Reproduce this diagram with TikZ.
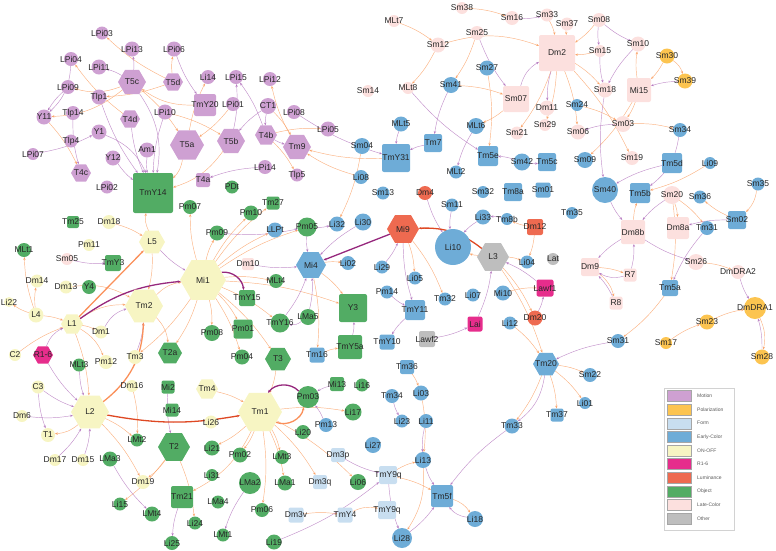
\documentclass[tikz,border=0pt]{standalone}
\usepackage{fontspec}
\setmainfont{Liberation Sans}
\usetikzlibrary{shapes.geometric,arrows.meta,backgrounds}
\definecolor{cMo}{RGB}{206,160,210}
\definecolor{cPo}{RGB}{252,196,80}
\definecolor{cFo}{RGB}{200,222,240}
\definecolor{cEc}{RGB}{110,172,215}
\definecolor{cOn}{RGB}{247,245,195}
\definecolor{cRr}{RGB}{230,45,140}
\definecolor{cLu}{RGB}{238,106,80}
\definecolor{cOb}{RGB}{82,172,100}
\definecolor{cLc}{RGB}{252,224,222}
\definecolor{cOt}{RGB}{190,190,190}
\definecolor{eO}{RGB}{250,160,100}
\definecolor{eP}{RGB}{180,118,190}
\definecolor{eR}{RGB}{222,72,35}
\definecolor{eD}{RGB}{150,40,125}
\tikzset{
  v/.style={inner sep=0pt,outer sep=0pt,text=black!85,font=\fontsize{8.5}{9}\selectfont,
    execute at begin node={\hbox to 0pt\bgroup\hss},execute at end node={\hss\egroup}},
  cir/.style={circle,minimum size=#1},
  sqr/.style={rectangle,rounded corners=2pt,minimum size=#1},
  hex/.style={regular polygon,regular polygon sides=6,minimum size=#1},
  mot/.style={fill=cMo}, pol/.style={fill=cPo}, frm/.style={fill=cFo}, ecl/.style={fill=cEc},
  onf/.style={fill=cOn}, rsx/.style={fill=cRr}, lum/.style={fill=cLu}, obj/.style={fill=cOb},
  lcl/.style={fill=cLc}, oth/.style={fill=cOt},
  eo/.style={draw=eO,line width=0.45pt,draw opacity=0.8,-{Stealth[length=3pt,width=2.4pt]}},
  ep/.style={draw=eP,line width=0.45pt,draw opacity=0.8,-{Stealth[length=3pt,width=2.4pt]}},
  thk/.style={line width=1.3pt,draw opacity=1},
  sw/.style={draw=gray!70,line width=0.3pt,minimum width=24pt,minimum height=11pt,inner sep=0pt},
  lg/.style={font=\fontsize{5}{6}\selectfont,text=gray!70!black,inner sep=0pt}
}
\begin{document}
\begin{tikzpicture}[x=1pt,y=-1pt]
\useasboundingbox (0,0) rectangle (776,550);
% motion
\node[v,cir=13,mot] (LPi03) at (102,33) {LPi03}; \node[v,cir=15,mot] (LPi13) at (132,49) {LPi13}; \node[v,cir=15,mot] (LPi06) at (174,49) {LPi06};
\node[v,cir=14,mot] (LPi04) at (71,59) {LPi04}; \node[v,cir=15,mot] (LPi11) at (99,67) {LPi11}; \node[v,hex=28,mot] (T5c) at (132,82) {T5c};
\node[v,hex=20,mot] (T5d) at (173,82) {T5d}; \node[v,cir=14,mot] (LPi09) at (68,87) {LPi09}; \node[v,cir=15,mot] (Tlp1) at (99,97) {Tlp1};
\node[v,cir=14,mot] (Tlp14) at (73,113) {Tlp14}; \node[v,cir=15,mot] (Y11) at (44,117) {Y11}; \node[v,hex=20,mot] (T4d) at (130,119) {T4d};
\node[v,cir=15,mot] (LPi10) at (165,112) {LPi10}; \node[v,cir=15,mot] (Y1) at (99,132) {Y1}; \node[v,cir=13,mot] (Tlp4) at (71,141) {Tlp4};
\node[v,hex=34,mot] (T5a) at (187,145) {T5a}; \node[v,cir=15,mot] (Am1) at (147,150) {Am1}; \node[v,cir=12,mot] (LPi07) at (33,154) {LPi07};
\node[v,cir=15,mot] (Y12) at (113,158) {Y12}; \node[v,hex=20,mot] (T4c) at (81,173) {T4c}; \node[v,cir=13,mot] (LPi02) at (107,187) {LPi02};
\node[v,cir=14,mot] (Li14) at (208,77) {Li14}; \node[v,cir=14,mot] (LPi15) at (236,77) {LPi15}; \node[v,cir=14,mot] (LPi12) at (270,79) {LPi12};
\node[v,sqr=22,mot] (TmY20) at (205,105) {TmY20}; \node[v,cir=14,mot] (LPi01) at (233,104) {LPi01}; \node[v,cir=16,mot] (CT1) at (268,106) {CT1};
\node[v,cir=14,mot] (LPi08) at (294,112) {LPi08}; \node[v,hex=28,mot] (T5b) at (231,141) {T5b}; \node[v,hex=22,mot] (T4b) at (266,135) {T4b};
\node[v,cir=15,mot] (LPi05) at (328,129) {LPi05}; \node[v,hex=28,mot] (Tm9) at (297,147) {Tm9}; \node[v,cir=14,mot] (LPi14) at (265,167) {LPi14};
\node[v,sqr=14,mot] (T4a) at (203,180) {T4a}; \node[v,cir=13,mot] (Tlp5) at (297,175) {Tlp5};
% on-off
\node[v,hex=46,onf] (Mi1) at (203,280) {Mi1}; \node[v,hex=44,onf] (Tm1) at (260,412) {Tm1}; \node[v,hex=38,onf] (L2) at (90,412) {L2};
\node[v,hex=38,onf] (Tm2) at (144,306) {Tm2}; \node[v,hex=26,onf] (L5) at (152,242) {L5}; \node[v,hex=22,onf] (L1) at (72,324) {L1};
\node[v,hex=22,onf] (Tm4) at (207,389) {Tm4}; \node[v,cir=14,onf] (Tm3) at (135,357) {Tm3}; \node[v,cir=15,onf] (L4) at (36,315) {L4};
\node[v,cir=12,onf] (C2) at (15,355) {C2}; \node[v,cir=13,onf] (C3) at (38,387) {C3}; \node[v,cir=12,onf] (Dm6) at (22,416) {Dm6};
\node[v,cir=14,onf] (T1) at (48,435) {T1}; \node[v,cir=12,onf] (Dm17) at (55,460) {Dm17}; \node[v,cir=12,onf] (Dm15) at (83,460) {Dm15};
\node[v,cir=12,onf] (Dm16) at (132,386) {Dm16}; \node[v,cir=14,onf] (Dm19) at (143,482) {Dm19}; \node[v,cir=13,onf] (Dm1) at (101,332) {Dm1};
\node[v,cir=14,onf] (Pm12) at (106,362) {Pm12}; \node[v,cir=13,onf] (Dm13) at (66,287) {Dm13}; \node[v,cir=13,onf] (Dm14) at (37,281) {Dm14};
\node[v,cir=14,onf] (Dm18) at (109,222) {Dm18}; \node[v,cir=12,onf] (Pm11) at (89,245) {Pm11}; \node[v,cir=10,onf] (Li22) at (9,302) {Li22};
\node[v,cir=13,onf] (Li26) at (211,422) {Li26};
% r1-6, luminance, other
\node[v,hex=20,rsx] (R16) at (43,355) {R1-6}; \node[v,sqr=17,rsx] (Lawf1) at (545,288) {Lawf1}; \node[v,sqr=15,rsx] (Lai) at (475,324) {Lai};
\node[v,hex=32,lum] (Mi9) at (403,229) {Mi9}; \node[v,cir=14,lum] (Dm4) at (425,193) {Dm4}; \node[v,sqr=16,lum] (Dm12) at (535,227) {Dm12};
\node[v,cir=15,lum] (Dm20) at (535,318) {Dm20};
\node[v,hex=32,oth] (L3) at (493,257) {L3}; \node[v,cir=12,oth] (Lat) at (553,259) {Lat}; \node[v,sqr=16,oth] (Lawf2) at (427,339) {Lawf2};
% object
\node[v,sqr=40,obj] (TmY14) at (153,193) {TmY14}; \node[v,hex=24,obj] (T2a) at (170,353) {T2a}; \node[v,hex=32,obj] (T2) at (174,447) {T2};
\node[v,hex=26,obj] (T3) at (278,359) {T3}; \node[v,sqr=28,obj] (Y3) at (353,308) {Y3}; \node[v,sqr=24,obj] (TmY5a) at (350,347) {TmY5a};
\node[v,sqr=16,obj] (TmY15) at (247,298) {TmY15}; \node[v,sqr=19,obj] (Pm01) at (243,329) {Pm01}; \node[v,sqr=13,obj] (Tm27) at (273,203) {Tm27};
\node[v,sqr=12,obj] (Tm25) at (73,222) {Tm25}; \node[v,sqr=16,obj] (TmY3) at (113,263) {TmY3}; \node[v,sqr=13,obj] (Mi2) at (168,387) {Mi2};
\node[v,sqr=13,obj] (Mi14) at (172,410) {Mi14}; \node[v,sqr=22,obj] (Tm21) at (182,497) {Tm21}; \node[v,sqr=14,obj] (Mi13) at (337,384) {Mi13};
\node[v,cir=14,obj] (MLt1) at (24,250) {MLt1}; \node[v,cir=14,obj] (Y4) at (89,287) {Y4}; \node[v,cir=13,obj] (MLt3) at (79,365) {MLt3};
\node[v,cir=13,obj] (PDt) at (232,187) {PDt}; \node[v,cir=14,obj] (Pm07) at (190,207) {Pm07}; \node[v,cir=15,obj] (Pm10) at (251,213) {Pm10};
\node[v,cir=15,obj] (Pm09) at (217,233) {Pm09}; \node[v,cir=19,obj] (Pm05) at (307,227) {Pm05}; \node[v,cir=14,obj] (MLt4) at (276,281) {MLt4};
\node[v,cir=19,obj] (TmY16) at (280,323) {TmY16}; \node[v,cir=16,obj] (LMa5) at (308,317) {LMa5}; \node[v,cir=16,obj] (Pm08) at (212,333) {Pm08};
\node[v,cir=15,obj] (Pm04) at (242,357) {Pm04}; \node[v,cir=22,obj] (Pm03) at (308,397) {Pm03}; \node[v,cir=13,obj] (Li16) at (362,385) {Li16};
\node[v,cir=17,obj] (Li17) at (353,412) {Li17}; \node[v,cir=14,obj] (Li20) at (303,432) {Li20}; \node[v,cir=15,obj] (Li21) at (212,448) {Li21};
\node[v,cir=15,obj] (Pm02) at (240,455) {Pm02}; \node[v,cir=14,obj] (LMt3) at (282,457) {LMt3}; \node[v,cir=12,obj] (Li31) at (212,475) {Li31};
\node[v,cir=22,obj] (LMa2) at (250,483) {LMa2}; \node[v,cir=15,obj] (LMa1) at (285,483) {LMa1}; \node[v,cir=13,obj] (LMa4) at (218,502) {LMa4};
\node[v,cir=14,obj] (Pm06) at (262,510) {Pm06}; \node[v,cir=13,obj] (LMt1) at (223,535) {LMt1}; \node[v,cir=15,obj] (Li19) at (274,542) {Li19};
\node[v,cir=13,obj] (Li24) at (195,523) {Li24}; \node[v,cir=14,obj] (Li25) at (172,543) {Li25}; \node[v,cir=15,obj] (LMt4) at (152,514) {LMt4};
\node[v,cir=13,obj] (LMt2) at (137,440) {LMt2}; \node[v,cir=15,obj] (LMa3) at (110,459) {LMa3}; \node[v,cir=13,obj] (Li15) at (120,504) {Li15};
\node[v,cir=16,obj] (Li06) at (358,482) {Li06};
% form
\node[v,sqr=14,frm] (Dm3p) at (338,455) {Dm3p}; \node[v,sqr=14,frm] (Dm3q) at (320,482) {Dm3q}; \node[v,sqr=15,frm] (Dm3v) at (296,515) {Dm3v};
\node[v,sqr=15,frm] (TmY4) at (345,515) {TmY4}; \node[v,sqr=18,frm] (TmY9q) at (388,475) {TmY9q}; \node[v,sqr=18,frm] (TmY9r) at (387,510) {TmY9q};
% early color
\node[v,cir=16,ecl] (Sm04) at (362,146) {Sm04}; \node[v,cir=14,ecl] (Li08) at (361,177) {Li08}; \node[v,cir=13,ecl] (Sm13) at (383,193) {Sm13};
\node[v,cir=15,ecl] (Li32) at (337,224) {Li32}; \node[v,cir=17,ecl] (Li30) at (363,222) {Li30}; \node[v,cir=15,ecl] (LLPt) at (275,230) {LLPt};
\node[v,cir=14,ecl] (Li02) at (348,263) {Li02}; \node[v,cir=13,ecl] (Li29) at (382,267) {Li29}; \node[v,cir=13,ecl] (Pm14) at (387,292) {Pm14};
\node[v,cir=13,ecl] (Li05) at (415,278) {Li05}; \node[v,cir=13,ecl] (Li07) at (473,295) {Li07}; \node[v,cir=36,ecl] (Li10) at (453,247) {Li10};
\node[v,cir=15,ecl] (Li33) at (483,217) {Li33}; \node[v,cir=12,ecl] (Tm8b) at (507,219) {Tm8b}; \node[v,cir=13,ecl] (Li04) at (527,262) {Li04};
\node[v,cir=15,ecl] (Mi10) at (503,293) {Mi10}; \node[v,cir=13,ecl] (Li12) at (510,323) {Li12}; \node[v,cir=13,ecl] (Sm11) at (452,205) {Sm11};
\node[v,cir=12,ecl] (Sm32) at (483,192) {Sm32}; \node[v,cir=13,ecl] (Tm32) at (445,299) {Tm32}; \node[v,cir=14,ecl] (Pm13) at (326,425) {Pm13};
\node[v,cir=16,ecl] (Li27) at (373,445) {Li27}; \node[v,cir=14,ecl] (Tm34) at (392,396) {Tm34}; \node[v,cir=15,ecl] (Li03) at (421,393) {Li03};
\node[v,cir=13,ecl] (Li23) at (402,421) {Li23}; \node[v,cir=14,ecl] (Li11) at (426,421) {Li11}; \node[v,cir=16,ecl] (Li13) at (423,460) {Li13};
\node[v,cir=20,ecl] (Li28) at (402,538) {Li28}; \node[v,cir=16,ecl] (Li18) at (475,519) {Li18}; \node[v,cir=15,ecl] (Tm33) at (512,426) {Tm33};
\node[v,cir=14,ecl] (Sm22) at (590,375) {Sm22}; \node[v,cir=12,ecl] (Li01) at (585,403) {Li01}; \node[v,cir=14,ecl] (Sm31) at (618,341) {Sm31};
\node[v,cir=26,ecl] (Sm40) at (605,190) {Sm40}; \node[v,cir=16,ecl] (Sm09) at (585,160) {Sm09}; \node[v,cir=17,ecl] (Sm42) at (522,162) {Sm42};
\node[v,cir=13,ecl] (MLt2) at (456,172) {MLt2}; \node[v,cir=15,ecl] (MLt5) at (401,124) {MLt5}; \node[v,cir=16,ecl] (MLt6) at (476,126) {MLt6};
\node[v,cir=15,ecl] (Sm27) at (487,68) {Sm27}; \node[v,cir=16,ecl] (Sm41) at (451,85) {Sm41}; \node[v,cir=12,ecl] (Sm24) at (577,105) {Sm24};
\node[v,cir=14,ecl] (Sm34) at (680,130) {Sm34}; \node[v,cir=12,ecl] (Li09) at (710,163) {Li09}; \node[v,cir=13,ecl] (Sm35) at (758,184) {Sm35};
\node[v,cir=13,ecl] (Sm36) at (700,197) {Sm36}; \node[v,cir=14,ecl] (Tm31) at (707,228) {Tm31}; \node[v,cir=12,ecl] (Tm35) at (572,213) {Tm35};
\node[v,sqr=28,ecl] (TmY31) at (396,158) {TmY31}; \node[v,sqr=18,ecl] (Tm7) at (433,143) {Tm7}; \node[v,sqr=20,ecl] (Tm5e) at (488,156) {Tm5e};
\node[v,sqr=18,ecl] (Tm5c) at (547,162) {Tm5c}; \node[v,sqr=18,ecl] (Tm8a) at (513,192) {Tm8a}; \node[v,sqr=15,ecl] (Sm01) at (543,190) {Sm01};
\node[v,sqr=20,ecl] (Tm5d) at (672,163) {Tm5d}; \node[v,sqr=20,ecl] (Tm5b) at (640,193) {Tm5b}; \node[v,sqr=18,ecl] (Sm02) at (737,220) {Sm02};
\node[v,sqr=16,ecl] (Tm5a) at (670,288) {Tm5a}; \node[v,sqr=20,ecl] (TmY11) at (415,310) {TmY11}; \node[v,sqr=15,ecl] (TmY10) at (387,342) {TmY10};
\node[v,sqr=14,ecl] (Tm36) at (407,367) {Tm36}; \node[v,sqr=15,ecl] (Tm16) at (317,355) {Tm16}; \node[v,sqr=13,ecl] (Tm37) at (557,415) {Tm37};
\node[v,sqr=22,ecl] (Tm5f) at (442,496) {Tm5f}; \node[v,hex=30,ecl] (Mi4) at (311,265) {Mi4}; \node[v,hex=26,ecl] (Tm20) at (546,364) {Tm20};
% late color
\node[v,sqr=36,lcl] (Dm2) at (557,53) {Dm2}; \node[v,sqr=26,lcl] (Sm07) at (516,99) {Sm07}; \node[v,sqr=24,lcl] (Mi15) at (639,90) {Mi15};
\node[v,sqr=24,lcl] (Dm8b) at (633,232) {Dm8b}; \node[v,sqr=22,lcl] (Dm8a) at (678,228) {Dm8a}; \node[v,sqr=18,lcl] (Dm9) at (590,267) {Dm9};
\node[v,sqr=13,lcl] (R7) at (630,275) {R7}; \node[v,sqr=13,lcl] (R8) at (616,303) {R8}; \node[v,sqr=12,lcl] (Dm10) at (248,264) {Dm10};
\node[v,cir=12,lcl] (Sm05) at (67,259) {Sm05}; \node[v,cir=12,lcl] (Sm38) at (462,8) {Sm38}; \node[v,cir=12,lcl] (MLt7) at (394,21) {MLt7};
\node[v,cir=14,lcl] (Sm16) at (512,18) {Sm16}; \node[v,cir=13,lcl] (Sm33) at (547,15) {Sm33}; \node[v,cir=13,lcl] (Sm37) at (567,24) {Sm37};
\node[v,cir=14,lcl] (Sm25) at (477,33) {Sm25}; \node[v,cir=15,lcl] (Sm12) at (438,45) {Sm12}; \node[v,cir=12,lcl] (MLt8) at (408,88) {MLt8};
\node[v,cir=12,lcl] (Sm14) at (368,91) {Sm14}; \node[v,cir=15,lcl] (Dm11) at (547,108) {Dm11}; \node[v,cir=13,lcl] (Sm21) at (517,133) {Sm21};
\node[v,cir=12,lcl] (Sm29) at (545,125) {Sm29}; \node[v,cir=15,lcl] (Sm06) at (578,132) {Sm06}; \node[v,cir=14,lcl] (Sm08) at (599,20) {Sm08};
\node[v,cir=12,lcl] (Sm15) at (600,51) {Sm15}; \node[v,cir=15,lcl] (Sm10) at (638,44) {Sm10}; \node[v,cir=15,lcl] (Sm18) at (605,90) {Sm18};
\node[v,cir=16,lcl] (Sm03) at (623,124) {Sm03}; \node[v,cir=14,lcl] (Sm19) at (632,158) {Sm19}; \node[v,cir=18,lcl] (Sm20) at (672,195) {Sm20};
\node[v,cir=16,lcl] (Sm26) at (696,262) {Sm26}; \node[v,cir=14,lcl] (DmDRA2) at (738,272) {DmDRA2};
% polarization
\node[v,cir=15,pol] (Sm30) at (667,56) {Sm30}; \node[v,cir=15,pol] (Sm39) at (685,81) {Sm39}; \node[v,cir=22,pol] (DmDRA1) at (755,308) {DmDRA1};
\node[v,cir=15,pol] (Sm23) at (707,322) {Sm23}; \node[v,cir=12,pol] (Sm17) at (666,343) {Sm17}; \node[v,cir=15,pol] (Sm28) at (762,357) {Sm28};
% connectors
\begin{scope}[on background layer]
\foreach \a/\b in {T5d/LPi03,T5d/LPi06,T4d/LPi04,T5d/Tlp1,Y11/T4c,T5a/Li14,T4b/LPi05,T4b/Tlp5,TmY31/Tm9,LPi01/T5a,T5c/T5a,LPi10/T5b,CT1/Tm9,Tm9/LPi12,
  Mi1/Pm08,Mi1/Pm01,Mi1/T3,Mi1/Pm09,Mi1/Pm10,Mi1/Tm27,Mi1/Pm07,Mi1/LLPt,Mi1/Pm05,Mi1/TmY16,Mi1/MLt4,Mi1/Pm04,Mi1/T2a,Mi1/Y3,Mi1/Tm3,
  Dm18/L5,L5/Tm2,L4/L1,C2/L1,L1/L2,L1/Dm1,L4/MLt1,L4/Li22,L4/Dm14,L2/Dm19,L2/LMt2,Tm4/Tm1,Tm1/Pm02,Tm1/Pm06,Tm1/LMa1,Tm1/Dm3q,Tm1/Li17,
  Tm1/LMt3,T3/Tm1,Tm1/Li21,Tm1/Li06,T2/Li15,T2/Li24,T2/Dm19,Dm16/LMt2,Tm16/TmY5a,Mi4/Y3,Mi4/Tm16,Mi4/Li02,
  L3/Li10,L3/Dm20,L3/Tm20,L3/Li04,Dm12/Li04,Mi10/Lawf1,Tm36/Li03,TmY9q/Li13,Tm20/Tm33,Tm20/Tm37,Tm20/Li01,Tm20/Sm22,TmY9q/Tm5f,Dm3v/TmY4,
  Sm38/Sm16,Sm33/Dm2,MLt7/Sm12,Sm12/MLt8,Sm25/Sm41,Sm41/Sm07,Sm27/Tm5e,Sm07/MLt6,Dm2/Sm29,Dm2/Sm06,Dm2/Sm18,Dm2/Sm19,Sm08/Dm2,Sm15/Dm2,
  Mi15/Sm10,Sm30/Mi15,Mi15/Sm03,Sm03/Sm34,Mi15/Sm09,Li09/Tm5b,Sm02/Sm36,Sm20/Dm8a,Sm20/Tm31,Dm8b/Tm5b,Dm9/R7,Sm26/DmDRA2,Sm17/Sm23,
  Sm23/DmDRA1,Tm5a/Sm31,Sm20/Tm5a,Sm24/Sm03,Mi9/Li05,Mi9/Tm32,Li03/Li13,Sm37/Dm2,Dm2/Sm21,Li08/Tm9,Sm04/Li32,Dm12/Tm8b,Li12/Tm20}
  \draw[eo] (\a) to[bend left=8] (\b);
\foreach \a/\b in {T5c/LPi09,T5c/Y11,T5a/TmY14,T5b/TmY14,TmY20/T5c,L2/T1,Tm2/Mi1,L1/Tm2,Dm9/R8,DmDRA1/Sm28,Sm35/Sm02,Sm30/Sm39,
  Sm12/Dm2,Tm5f/Li18,TmY4/TmY9r,L1/Pm12,Tm1/Tm21,Tm2/T2a,L5/TmY14,Dm13/Tm2,Li13/Li28}
  \draw[eo] (\a) to[bend left=18] (\b);
\foreach \a/\b in {T5c/LPi13,T5c/LPi11,Tlp1/TmY14,T4d/TmY14,LPi10/TmY14,Y12/TmY14,Am1/TmY14,LPi07/Y1,Tlp14/T4c,T5b/LPi15,T4b/LPi15,CT1/T5b,
  CT1/T4b,T4b/Tm9,LPi14/T4a,LPi06/TmY20,LPi09/Y11,Pm05/Li32,Pm05/Mi4,Dm10/Mi4,LMa5/Mi4,TmY16/Mi4,TmY5a/Y3,L5/Mi1,Tm3/Tm2,Sm05/TmY3,
  C3/L2,C3/T1,Dm6/L2,Dm17/L2,Dm15/L2,MLt3/L2,R16/L2,LMa3/LMt4,Tm21/Li25,LMa2/LMt1,Mi2/T2,Pm13/Pm03,Mi13/Pm03,
  Dm4/Li10,Sm11/Li10,Li33/Li10,Tm8b/Li33,Mi9/TmY11,Lai/L3,Lawf1/L3,Dm20/Lawf1,Lawf2/Lai,Tm33/Tm5f,Li13/Tm5f,Li28/Tm5f,TmY9q/Li28,
  Dm3p/TmY9q,Li19/TmY9q,Sm31/Tm20,Sm16/Sm33,Sm25/Sm07,Sm41/Tm7,Dm2/Dm11,MLt8/Tm5e,Sm08/Sm15,Sm08/Sm10,Sm15/Sm18,Sm10/Sm18,Sm39/Mi15,
  Sm03/Sm06,Sm18/Sm40,Tm5d/Sm40,Sm02/Dm8a,Sm20/Dm8b,Sm40/Dm8b,R7/Dm8b,Dm8b/Dm9,R8/Dm9,Dm8b/Sm26,DmDRA2/DmDRA1,Sm28/DmDRA1,Tm31/Tm5a,
  Sm42/Tm5e,MLt6/MLt2,Sm42/Tm5c,LPi08/TmY31,Pm09/Pm05,MLt5/TmY31,Tm7/TmY31,Li30/Mi4,Li29/Mi9,Pm14/TmY11,TmY11/TmY10,Tm34/Li23,Li11/Li13}
  \draw[ep] (\a) to[bend right=8] (\b);
\foreach \a/\b in {Y1/TmY14,LPi04/Y11,R16/L1,Sm07/Dm2,R7/Dm9,Li18/Tm5f,Tm20/Tm33,Sm34/Tm5b,T5c/TmY14,Dm1/Tm2,LMa5/TmY16}
  \draw[ep] (\a) to[bend left=22] (\b);
% heavy links
\draw[eo,thk,draw=eR] (L2) to[bend right=10] (Tm1);
\draw[eo,thk,draw=eO!90!red] (L1) -- (L5);
\draw[eo,thk,draw=eO!90!red] (L2) to[bend right=25] (Tm2);
\draw[eo,thk,draw=eO!90!red] (Tm1) to[bend right=50] (Pm03);
\draw[eo,thk,draw=eR] (L3) to[bend right=20] (Mi9);
\draw[ep,thk,draw=eD] (L1) to[bend left=15] (Mi1);
\draw[ep,thk,draw=eD] (Mi9) -- (Mi4);
\draw[ep,thk,draw=eD] (Pm03) to[bend right=50] (Tm1);
\draw[ep,thk,draw=eD] (Mi1) to[bend left=45] (TmY15);
\end{scope}
% legend
\draw[gray!35,line width=0.4pt] (664,388) rectangle (734,530);
\foreach \i/\col/\nm in {0/cMo/Motion,1/cPo/Polarization,2/cFo/Form,3/cEc/Early-Color,4/cOn/ON-OFF,5/cRr/R1-6,6/cLu/Luminance,7/cOb/Object,8/cLc/Late-Color,9/cOt/Other}{
  \node[sw,fill=\col] (sw\i) at (679,{396+13.6*\i}) {};
  \node[lg,anchor=west] (lg\i) at (697,{396+13.6*\i}) {\nm};
}
\end{tikzpicture}
\end{document}
